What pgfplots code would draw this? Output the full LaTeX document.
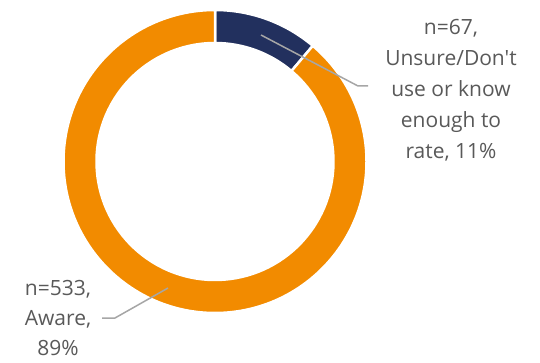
\documentclass[border=0pt]{standalone}
\usepackage{pgfplots}
\pgfplotsset{compat=1.18}
\usepackage{fontspec}
\setmainfont{Open Sans}[Ligatures=TeXOff]
\definecolor{navy}{RGB}{34,48,94}
\definecolor{orng}{RGB}{242,139,0}
\definecolor{lead}{RGB}{166,166,166}
\definecolor{txt}{RGB}{89,89,89}
% data: n per category
\def\nUnsure{67}
\def\nAware{533}
\begin{document}
\begin{tikzpicture}
\pgfmathsetmacro{\tot}{\nUnsure+\nAware}
\pgfmathsetmacro{\frac}{\nUnsure/\tot}
\pgfmathsetmacro{\aB}{90-360*\frac}
\pgfmathsetmacro{\aEnd}{\aB+360}
\begin{axis}[hide axis, x=1pt, y=1pt, xmin=0, xmax=540, ymin=0, ymax=363,
  y dir=reverse, clip=false, scale only axis]
\addplot[draw=none] coordinates {(0,0) (540,363)};
% blue slice
\fill[navy, draw=white, line width=2.5pt] (axis cs:215,161.5) ++(\aB:151.5pt)
  arc[start angle=\aB, end angle=90, radius=151.5pt] -- ++(90:-33pt)
  arc[start angle=90, end angle=\aB, radius=118.5pt] -- cycle;
% orange slice
\fill[orng, draw=white, line width=2.5pt] (axis cs:215,161.5) ++(90:151.5pt)
  arc[start angle=90, end angle=\aEnd, radius=151.5pt] -- ++(\aEnd:-33pt)
  arc[start angle=\aEnd, end angle=90, radius=118.5pt] -- cycle;
% leader lines
\draw[lead, line width=1.5pt] (axis cs:261,35) -- (axis cs:358,86) -- (axis cs:368,86);
\draw[lead, line width=1.5pt] (axis cs:168,288) -- (axis cs:115,318) -- (axis cs:102,318);
% labels
\node[align=center, text=txt, font=\fontsize{21}{31}\selectfont] at (axis cs:451,90)
  {n=67,\\Unsure/Don't\\use or know\\enough to\\rate, 11\%};
\node[align=center, text=txt, font=\fontsize{21}{30}\selectfont] at (axis cs:58,318)
  {n=533,\\Aware,\\89\%};
\end{axis}
\end{tikzpicture}
\end{document}
